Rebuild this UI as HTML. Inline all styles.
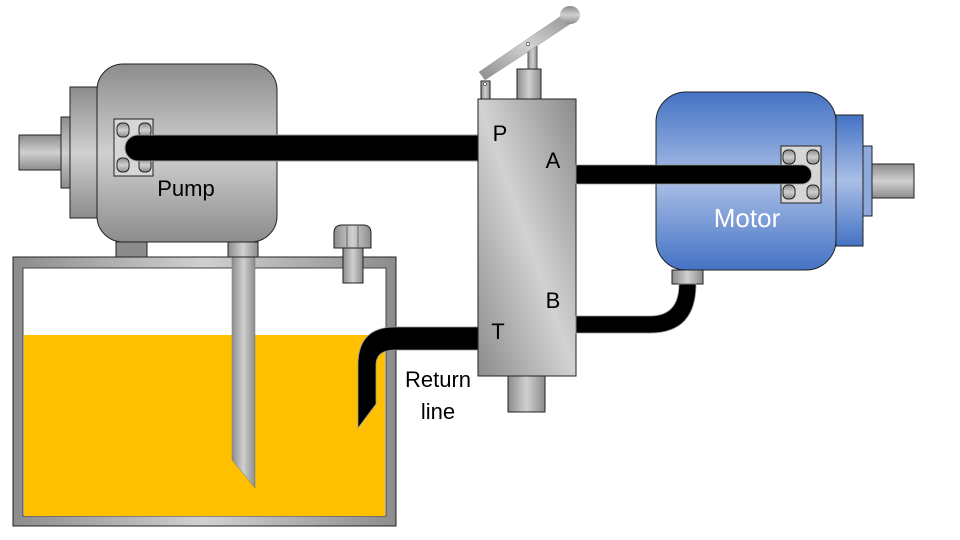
<!DOCTYPE html>
<html><head><meta charset="utf-8"><style>
html,body{margin:0;padding:0;background:#fff}
svg{display:block}
text{font-family:"Liberation Sans",sans-serif}
</style></head><body>
<svg width="960" height="540" viewBox="0 0 960 540" xmlns="http://www.w3.org/2000/svg">
<defs>
<linearGradient id="gv" x1="0" y1="0" x2="0" y2="1"><stop offset="0" stop-color="#8c8c8c"/><stop offset="0.5" stop-color="#d0d0d0"/><stop offset="1" stop-color="#8c8c8c"/></linearGradient>
<linearGradient id="gh" x1="0" y1="0" x2="1" y2="0"><stop offset="0" stop-color="#8c8c8c"/><stop offset="0.5" stop-color="#d0d0d0"/><stop offset="1" stop-color="#8c8c8c"/></linearGradient>
<linearGradient id="gd" x1="0" y1="1" x2="1" y2="0"><stop offset="0" stop-color="#8c8c8c"/><stop offset="0.5" stop-color="#d2d2d2"/><stop offset="1" stop-color="#8c8c8c"/></linearGradient>
<linearGradient id="gb" x1="0" y1="0" x2="0" y2="1"><stop offset="0" stop-color="#4472c4"/><stop offset="0.5" stop-color="#a9bfe6"/><stop offset="1" stop-color="#4472c4"/></linearGradient>
<linearGradient id="gp" x1="0" y1="0" x2="0" y2="1"><stop offset="0" stop-color="#8c8c8c"/><stop offset="0.5" stop-color="#cfcfcf"/><stop offset="1" stop-color="#8c8c8c"/></linearGradient>
</defs>
<!-- tank -->
<rect x="13" y="257" width="383" height="269" fill="url(#gh)" stroke="#222" stroke-width="1"/>
<rect x="23" y="268" width="363" height="248" fill="#fff" stroke="#444" stroke-width="1"/>
<rect x="24" y="335" width="361" height="181" fill="#ffc000"/>
<!-- suction pipe -->
<path d="M232 257 L255 257 L255 488 L232 460 Z" fill="url(#gh)" stroke="#777" stroke-width="0.5"/>
<!-- filler cap -->
<rect x="343" y="246" width="20" height="37" fill="url(#gh)" stroke="#222"/>
<path d="M334 248 L334 233 Q334 225 342 225 L363 225 Q371 225 371 233 L371 248 Z" fill="url(#gh)" stroke="#222"/>
<line x1="347" y1="226" x2="347" y2="248" stroke="#666"/><line x1="358" y1="226" x2="358" y2="248" stroke="#666"/>
<!-- pump -->
<rect x="19" y="135" width="42" height="35" fill="url(#gv)" stroke="#222"/>
<rect x="61" y="117" width="9" height="71" fill="url(#gv)" stroke="#222"/>
<rect x="70" y="87" width="27" height="131" fill="url(#gv)" stroke="#222"/>
<rect x="116" y="242" width="31" height="15" fill="#8c8c8c" stroke="#222"/>
<rect x="228" y="242" width="30" height="15" fill="url(#gh)" stroke="#222"/>
<rect x="97" y="64" width="180" height="178" rx="26" fill="url(#gv)" stroke="#222"/>
<rect x="114" y="119" width="39" height="57" fill="#d6d6d6" stroke="#222"/>
<rect x="117" y="123" width="12" height="14" rx="5" fill="url(#gv)" stroke="#222"/>
<rect x="139" y="123" width="12" height="14" rx="5" fill="url(#gv)" stroke="#222"/>
<rect x="117" y="158" width="12" height="14" rx="5" fill="url(#gv)" stroke="#222"/>
<rect x="139" y="158" width="12" height="14" rx="5" fill="url(#gv)" stroke="#222"/>
<path d="M480 135 L138 135 A13 13 0 0 0 138 161 L480 161 Z" fill="#000" stroke="#999" stroke-width="1"/>
<text x="186" y="196" font-size="22" text-anchor="middle">Pump</text>
<!-- return line -->
<path d="M480 327 L395 327 Q358 327 358 365 L358 428 L376 404 L376 365 Q376 350 395 350 L480 350 Z" fill="#000" stroke="#999" stroke-width="0.8"/>
<text x="438" y="387" font-size="22" text-anchor="middle">Return</text>
<text x="438" y="419" font-size="22" text-anchor="middle">line</text>
<!-- valve -->
<rect x="508" y="374" width="37" height="38" fill="url(#gh)" stroke="#222"/>
<rect x="528" y="45" width="9" height="26" fill="url(#gh)" stroke="#555"/>
<rect x="517" y="69" width="24" height="31" fill="url(#gh)" stroke="#222"/>
<rect x="481" y="81" width="9" height="19" fill="url(#gh)" stroke="#222"/>
<path d="M479 72 L570 10 L576 20 L485 80 Z" fill="url(#gd)" stroke="#999" stroke-width="0.5"/>
<ellipse cx="570" cy="15" rx="10" ry="9" fill="url(#gv)"/>
<circle cx="485" cy="84" r="1.5" fill="#fff" stroke="#222" stroke-width="0.6"/>
<circle cx="528" cy="44" r="1.8" fill="#fff" stroke="#222" stroke-width="0.6"/>
<rect x="478" y="99" width="98" height="277" fill="url(#gd)" stroke="#222"/>
<text x="500" y="141" font-size="22" text-anchor="middle">P</text>
<text x="553" y="168" font-size="22" text-anchor="middle">A</text>
<text x="553" y="308" font-size="22" text-anchor="middle">B</text>
<text x="498" y="339" font-size="22" text-anchor="middle">T</text>
<!-- motor -->
<rect x="872" y="164" width="42" height="34" fill="url(#gv)" stroke="#222"/>
<rect x="863" y="146" width="9" height="70" fill="#8fa9dd" stroke="#222"/>
<rect x="836" y="115" width="27" height="131" fill="url(#gb)" stroke="#222"/>
<rect x="672" y="270" width="31" height="14" fill="url(#gh)" stroke="#222"/>
<rect x="656" y="92" width="180" height="178" rx="30" fill="url(#gb)" stroke="#222"/>
<rect x="781" y="146" width="40" height="57" fill="#d6d6d6" stroke="#222"/>
<rect x="783" y="150" width="12" height="14" rx="5" fill="url(#gv)" stroke="#222"/>
<rect x="807" y="150" width="12" height="14" rx="5" fill="url(#gv)" stroke="#222"/>
<rect x="783" y="185" width="12" height="14" rx="5" fill="url(#gv)" stroke="#222"/>
<rect x="807" y="185" width="12" height="14" rx="5" fill="url(#gv)" stroke="#222"/>
<path d="M576 165 L802 165 A9.5 9.5 0 0 1 802 184 L576 184 Z" fill="#000" stroke="#999" stroke-width="0.8"/>
<text x="747" y="227" font-size="26" fill="#fff" text-anchor="middle">Motor</text>
<!-- B hose -->
<path d="M576 316 L650 316 Q679 316 679 284 L696 284 Q696 333 650 333 L576 333 Z" fill="#000" stroke="#999" stroke-width="0.8"/>
</svg>
</body></html>
